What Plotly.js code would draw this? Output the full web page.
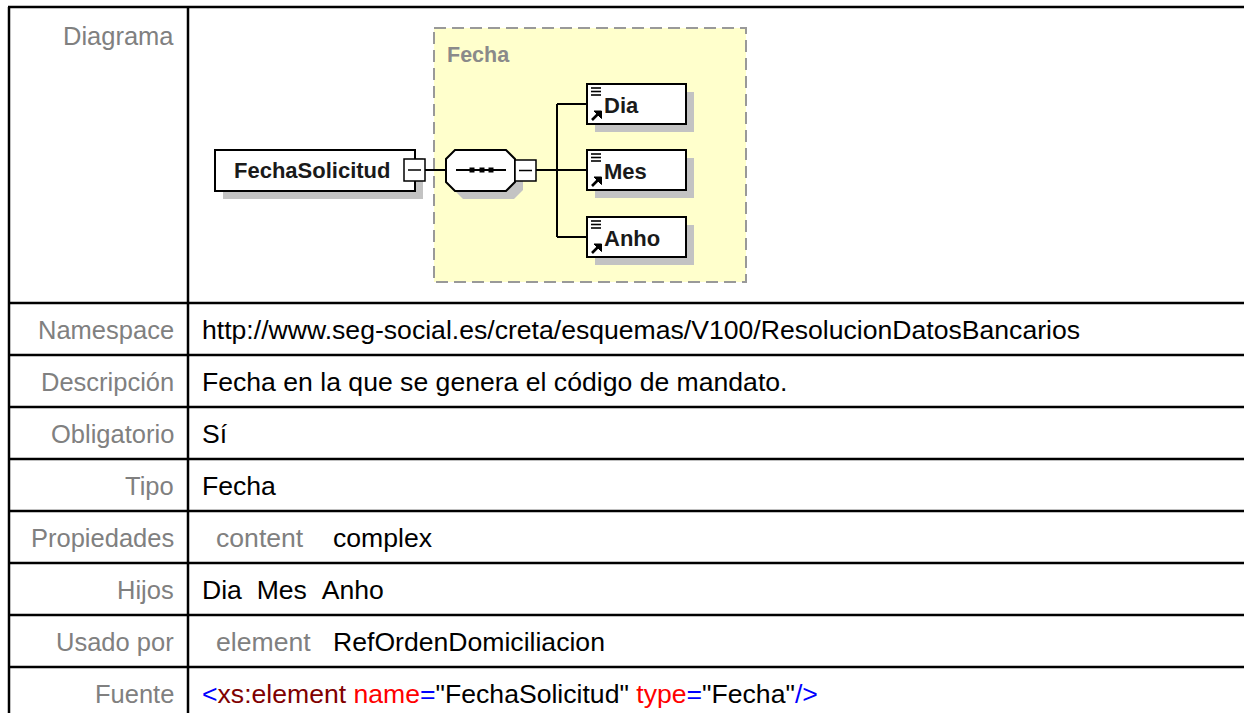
<!DOCTYPE html>
<html><head><meta charset="utf-8">
<script src="https://cdn.plot.ly/plotly-3.0.1.min.js"></script>
<style>html,body{margin:0;padding:0;background:#fff;}#c{width:1244px;height:713px;}</style>
</head><body><div id="c"></div>
<script>
// ---- data ----
const rowLabels = ["Diagrama","Namespace","Descripción","Obligatorio","Tipo","Propiedades","Hijos","Usado por","Fuente"];
const namespaceValue = "http://www.seg-social.es/creta/esquemas/V100/ResolucionDatosBancarios";
const descripcionValue = "Fecha en la que se genera el código de mandato.";
const obligatorioValue = "Sí";
const tipoValue = "Fecha";
const propKeys = ["content"];
const propValues = ["complex"];
const hijos = ["Dia","Mes","Anho"];
const usadoKeys = ["element"];
const usadoValues = ["RefOrdenDomiciliacion"];
const elementName = "FechaSolicitud";
const typeName = "Fecha";
const childNames = ["Dia","Mes","Anho"];

// ---- layout helpers ----
const FONT = "Liberation Sans, Arial, Helvetica, sans-serif";
const FS = 25.5, FSV = 26.6;
const LABEL_GRAY = "#808080";
const shapes = [];
const ann = [];
function line(x0,y0,x1,y1,color,w,dash){shapes.push({type:'line',xref:'x',yref:'y',x0,y0,x1,y1,line:{color:color||'#000',width:w||2,dash:dash||'solid'}});}
function rect(x0,y0,x1,y1,fill,color,w,dash){shapes.push({type:'rect',xref:'x',yref:'y',x0,y0,x1,y1,fillcolor:fill||'rgba(0,0,0,0)',line:{color:color||'rgba(0,0,0,0)',width:w===undefined?0:w,dash:dash||'solid'},layer:'above'});}
function path(d,fill,color,w){shapes.push({type:'path',xref:'x',yref:'y',path:d,fillcolor:fill||'rgba(0,0,0,0)',line:{color:color||'rgba(0,0,0,0)',width:w||0},layer:'above'});}
function text(x,y,t,opts){opts=opts||{};ann.push({x,y,xref:'x',yref:'y',text:t,showarrow:false,xanchor:opts.xa||'left',yanchor:'middle',borderpad:0,borderwidth:0,font:{family:FONT,size:opts.size||FSV,color:opts.color||'#000',weight:opts.weight||'normal'}});}

// ---- table grid ----
const TOP = 7, ROW0 = 303, RH = 52, LEFT = 9, DIV = 188, W = 1244;
line(LEFT-1,TOP,W,TOP,'#000',2.5);
line(LEFT,TOP,LEFT,713,'#000',2.5);
line(DIV,TOP,DIV,713,'#000',2.5);
for(let k=0;k<8;k++){ line(LEFT,ROW0+RH*k,W,ROW0+RH*k,'#000',2.5); }

// labels
const LBL_R = 174, VAL_L = 202;
text(LBL_R, 36, rowLabels[0], {xa:'right',color:LABEL_GRAY,size:FS});
for(let i=1;i<rowLabels.length;i++){
  text(LBL_R, ROW0+RH*(i-1)+RH/2+1, rowLabels[i], {xa:'right',color:LABEL_GRAY,size:FS});
}
function rowY(i){return ROW0+RH*i+RH/2+1;}
text(VAL_L, rowY(0), namespaceValue);
text(VAL_L, rowY(1), descripcionValue);
text(VAL_L, rowY(2), obligatorioValue);
text(VAL_L, rowY(3), tipoValue);
text(216, rowY(4), propKeys[0], {color:LABEL_GRAY});
text(333, rowY(4), propValues[0]);
text(VAL_L, rowY(5), hijos.join("\u00a0\u00a0"));
text(216, rowY(6), usadoKeys[0], {color:LABEL_GRAY});
text(333, rowY(6), usadoValues[0]);
const B='#0000ff', DR='#800000', R='#ff0000', K='#000000';
function sp(c,t){return '<span style="color:'+c+'">'+t+'</span>';}
const src = sp(B,'&lt;')+sp(DR,'xs:element')+sp(R,' name')+sp(B,'=')+sp(K,'"'+elementName+'"')+sp(R,' type')+sp(B,'=')+sp(K,'"'+typeName+'"')+sp(B,'/&gt;');
text(VAL_L, rowY(7), src);

// ---- diagram ----
const SH = '#c3c3c3', YEL = '#ffffcc';
// dashed type box
rect(434,28,746,282,YEL,'#999999',2,'12px,6px');
text(447,55,typeName,{color:'#8a8a8a',weight:'bold',size:21.5});
// main element box
rect(223,158,423,199,SH);
rect(215,150,415,191,'#fff','#000',2);
text(312,170.5,elementName,{xa:'center',weight:'bold',size:22,color:'#1a1a1a'});
rect(404,159,425,181,'#fff','#000',1.5);
line(408,170,421,170,'#000',1.5);
// connector
line(425,170,446,170,'#000',2);
// sequence octagon
const ox0=446, ox1=515, oy0=150, oy1=191, c=9;
function oct(dx,dy){return 'M'+(ox0+c+dx)+','+(oy0+dy)+' L'+(ox1-c+dx)+','+(oy0+dy)+' L'+(ox1+dx)+','+(oy0+c+dy)+' L'+(ox1+dx)+','+(oy1-c+dy)+' L'+(ox1-c+dx)+','+(oy1+dy)+' L'+(ox0+c+dx)+','+(oy1+dy)+' L'+(ox0+dx)+','+(oy1-c+dy)+' L'+(ox0+dx)+','+(oy0+c+dy)+' Z';}
path(oct(8,8),SH);
path(oct(0,0),'#fff','#000',2);
line(456,170,506,170,'#000',2);
[472,482,491].forEach(x=>rect(x-2.5,167.5,x+2.5,172.5,'#000'));
rect(515,160,536,181,'#fff','#000',1.5);
line(519,170.5,532,170.5,'#000',1.5);
// branches
const childTop=[84,150,217], CH=40, CX0=587, CX1=686;
line(536,170,557,170,'#000',2);
line(557,childTop[0]+CH/2,557,childTop[2]+CH/2,'#000',2);
childNames.forEach((n,i)=>{
  const t=childTop[i], cy=t+CH/2;
  line(557,cy,CX0,cy,'#000',2);
  rect(CX0+8,t+8,CX1+8,t+CH+8,SH);
  rect(CX0,t,CX1,t+CH,'#fff','#000',2);
  // list icon
  [4,7.5,11].forEach(d=>line(591,t+d,601,t+d,'#000',1.6));
  // arrow icon
  line(592,t+CH-4,598,t+CH-10,'#000',2.6);
  path('M'+594+','+(t+CH-13)+' L'+601.5+','+(t+CH-13)+' L'+601.5+','+(t+CH-5.5)+' Z','#000','#000',1);
  text(604,cy+1,n,{weight:'bold',size:22,color:'#1a1a1a'});
});

const layout={width:1244,height:713,margin:{l:0,r:0,t:0,b:0},paper_bgcolor:'#fff',plot_bgcolor:'#fff',
  xaxis:{range:[0,1244],visible:false,fixedrange:true},
  yaxis:{range:[713,0],visible:false,fixedrange:true},
  showlegend:false,shapes:shapes,annotations:ann};
Plotly.newPlot('c',[{x:[],y:[],type:'scatter'}],layout,{staticPlot:true,displayModeBar:false});
</script></body></html>
